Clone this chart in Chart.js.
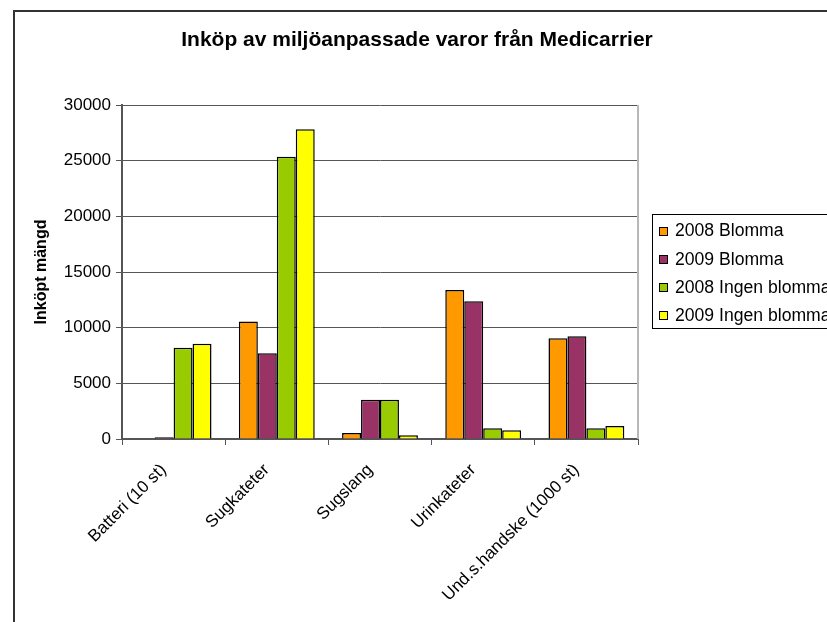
<!DOCTYPE html>
<html>
<head>
<meta charset="utf-8">
<script src="https://cdn.jsdelivr.net/npm/chart.js@4.4.1/dist/chart.umd.min.js"></script>
<style>
  html, body { margin: 0; padding: 0; background: #fff; overflow: hidden; }
  #wrap { width: 827px; height: 622px; position: relative; }
</style>
</head>
<body>
<div id="wrap"><canvas id="chart"></canvas></div>
<script>
const categories = ["Batteri (10 st)", "Sugkateter", "Sugslang", "Urinkateter", "Und.s.handske (1000 st)"];
const blomma2008 = [0, 10550, 550, 13380, 9040];
const blomma2009 = [150, 7700, 3530, 12370, 9220];
const ingenBlomma2008 = [8200, 25360, 3530, 960, 960];
const ingenBlomma2009 = [8560, 27820, 330, 780, 1170];
const seriesNames = ["2008 Blomma", "2009 Blomma", "2008 Ingen blomma", "2009 Ingen blomma"];
const seriesColors = ["#FF9900", "#993366", "#99CC00", "#FFFF00"];
const yTicks = [0, 5000, 10000, 15000, 20000, 25000, 30000];

const titleText = "Inköp av miljöanpassade varor från Medicarrier";
const yTitleText = "Inköpt mängd";
const fontFamily = "'Liberation Sans', Arial, sans-serif";

// frame, title, plot border and legend drawn around the chart
const decorations = {
  id: "decorations",
  beforeDraw(chart) {
    const ctx = chart.ctx;
    ctx.save();
    ctx.fillStyle = "#fff";
    ctx.fillRect(0, 0, chart.width, chart.height);
    ctx.strokeStyle = "#333";
    ctx.lineWidth = 2;
    ctx.beginPath();
    ctx.moveTo(14, chart.height + 5);
    ctx.lineTo(14, 11);
    ctx.lineTo(chart.width + 5, 11);
    ctx.stroke();
    ctx.restore();
  },
  afterDraw(chart) {
    const ctx = chart.ctx;
    const area = chart.chartArea;
    ctx.save();

    ctx.strokeStyle = "#b8b8b8";
    ctx.lineWidth = 2;
    ctx.beginPath();
    ctx.moveTo(area.right, area.top);
    ctx.lineTo(area.right, area.bottom);
    ctx.stroke();

    ctx.fillStyle = "#000";
    ctx.font = "bold 21px " + fontFamily;
    ctx.textAlign = "center";
    ctx.textBaseline = "middle";
    ctx.fillText(titleText, 417, 40);

    // legend
    const lx = 652.5, ly = 214.5, lh = 114;
    ctx.strokeStyle = "#000";
    ctx.lineWidth = 1;
    ctx.strokeRect(lx, ly, 300, lh);
    ctx.font = "17.6px " + fontFamily;
    ctx.textAlign = "left";
    chart.data.datasets.forEach((ds, i) => {
      const cy = 230.5 + i * 28.3;
      ctx.fillStyle = ds.backgroundColor;
      ctx.fillRect(659.5, Math.round(cy - 4) + 0.5, 8, 8);
      ctx.strokeRect(659.5, Math.round(cy - 4) + 0.5, 8, 8);
      ctx.fillStyle = "#000";
      ctx.fillText(ds.label, 675, cy + 1);
    });
    ctx.restore();
  }
};

new Chart(document.getElementById("chart"), {
  type: "bar",
  data: {
    labels: categories,
    datasets: [blomma2008, blomma2009, ingenBlomma2008, ingenBlomma2009].map((values, i) => ({
      label: seriesNames[i],
      data: values,
      backgroundColor: seriesColors[i],
      borderColor: "#000",
      borderWidth: 1.5,
      categoryPercentage: 0.735,
      barPercentage: 1.0
    }))
  },
  options: {
    responsive: true,
    maintainAspectRatio: false,
    animation: false,
    layout: { padding: { left: 0, top: 105, right: 189, bottom: 0 } },
    plugins: {
      legend: { display: false },
      title: { display: false },
      tooltip: { enabled: false }
    },
    scales: {
      x: {
        offset: true,
        afterFit(scale) { scale.height = 183; },
        grid: { display: true, drawOnChartArea: false, tickLength: 6, color: "#555", offset: true },
        border: { display: true, color: "#555", width: 2 },
        ticks: {
          color: "#000",
          font: { family: fontFamily, size: 17 },
          minRotation: 45,
          maxRotation: 45,
          autoSkip: false,
          padding: 15,
          labelOffset: -10
        }
      },
      y: {
        min: yTicks[0],
        max: yTicks[yTicks.length - 1],
        afterFit(scale) { scale.width = 122; },
        afterBuildTicks(scale) { scale.ticks = yTicks.map(v => ({ value: v })); },
        grid: { color: "#555", tickLength: 6 },
        border: { display: true, color: "#555", width: 2 },
        title: {
          display: true,
          text: yTitleText,
          color: "#000",
          font: { family: fontFamily, size: 16, weight: "bold" },
          padding: { top: 31.5, bottom: 0 }
        },
        ticks: {
          color: "#000",
          font: { family: fontFamily, size: 17 },
          padding: 5,
          callback: (v) => String(v)
        }
      }
    }
  },
  plugins: [decorations]
});
</script>
</body>
</html>
